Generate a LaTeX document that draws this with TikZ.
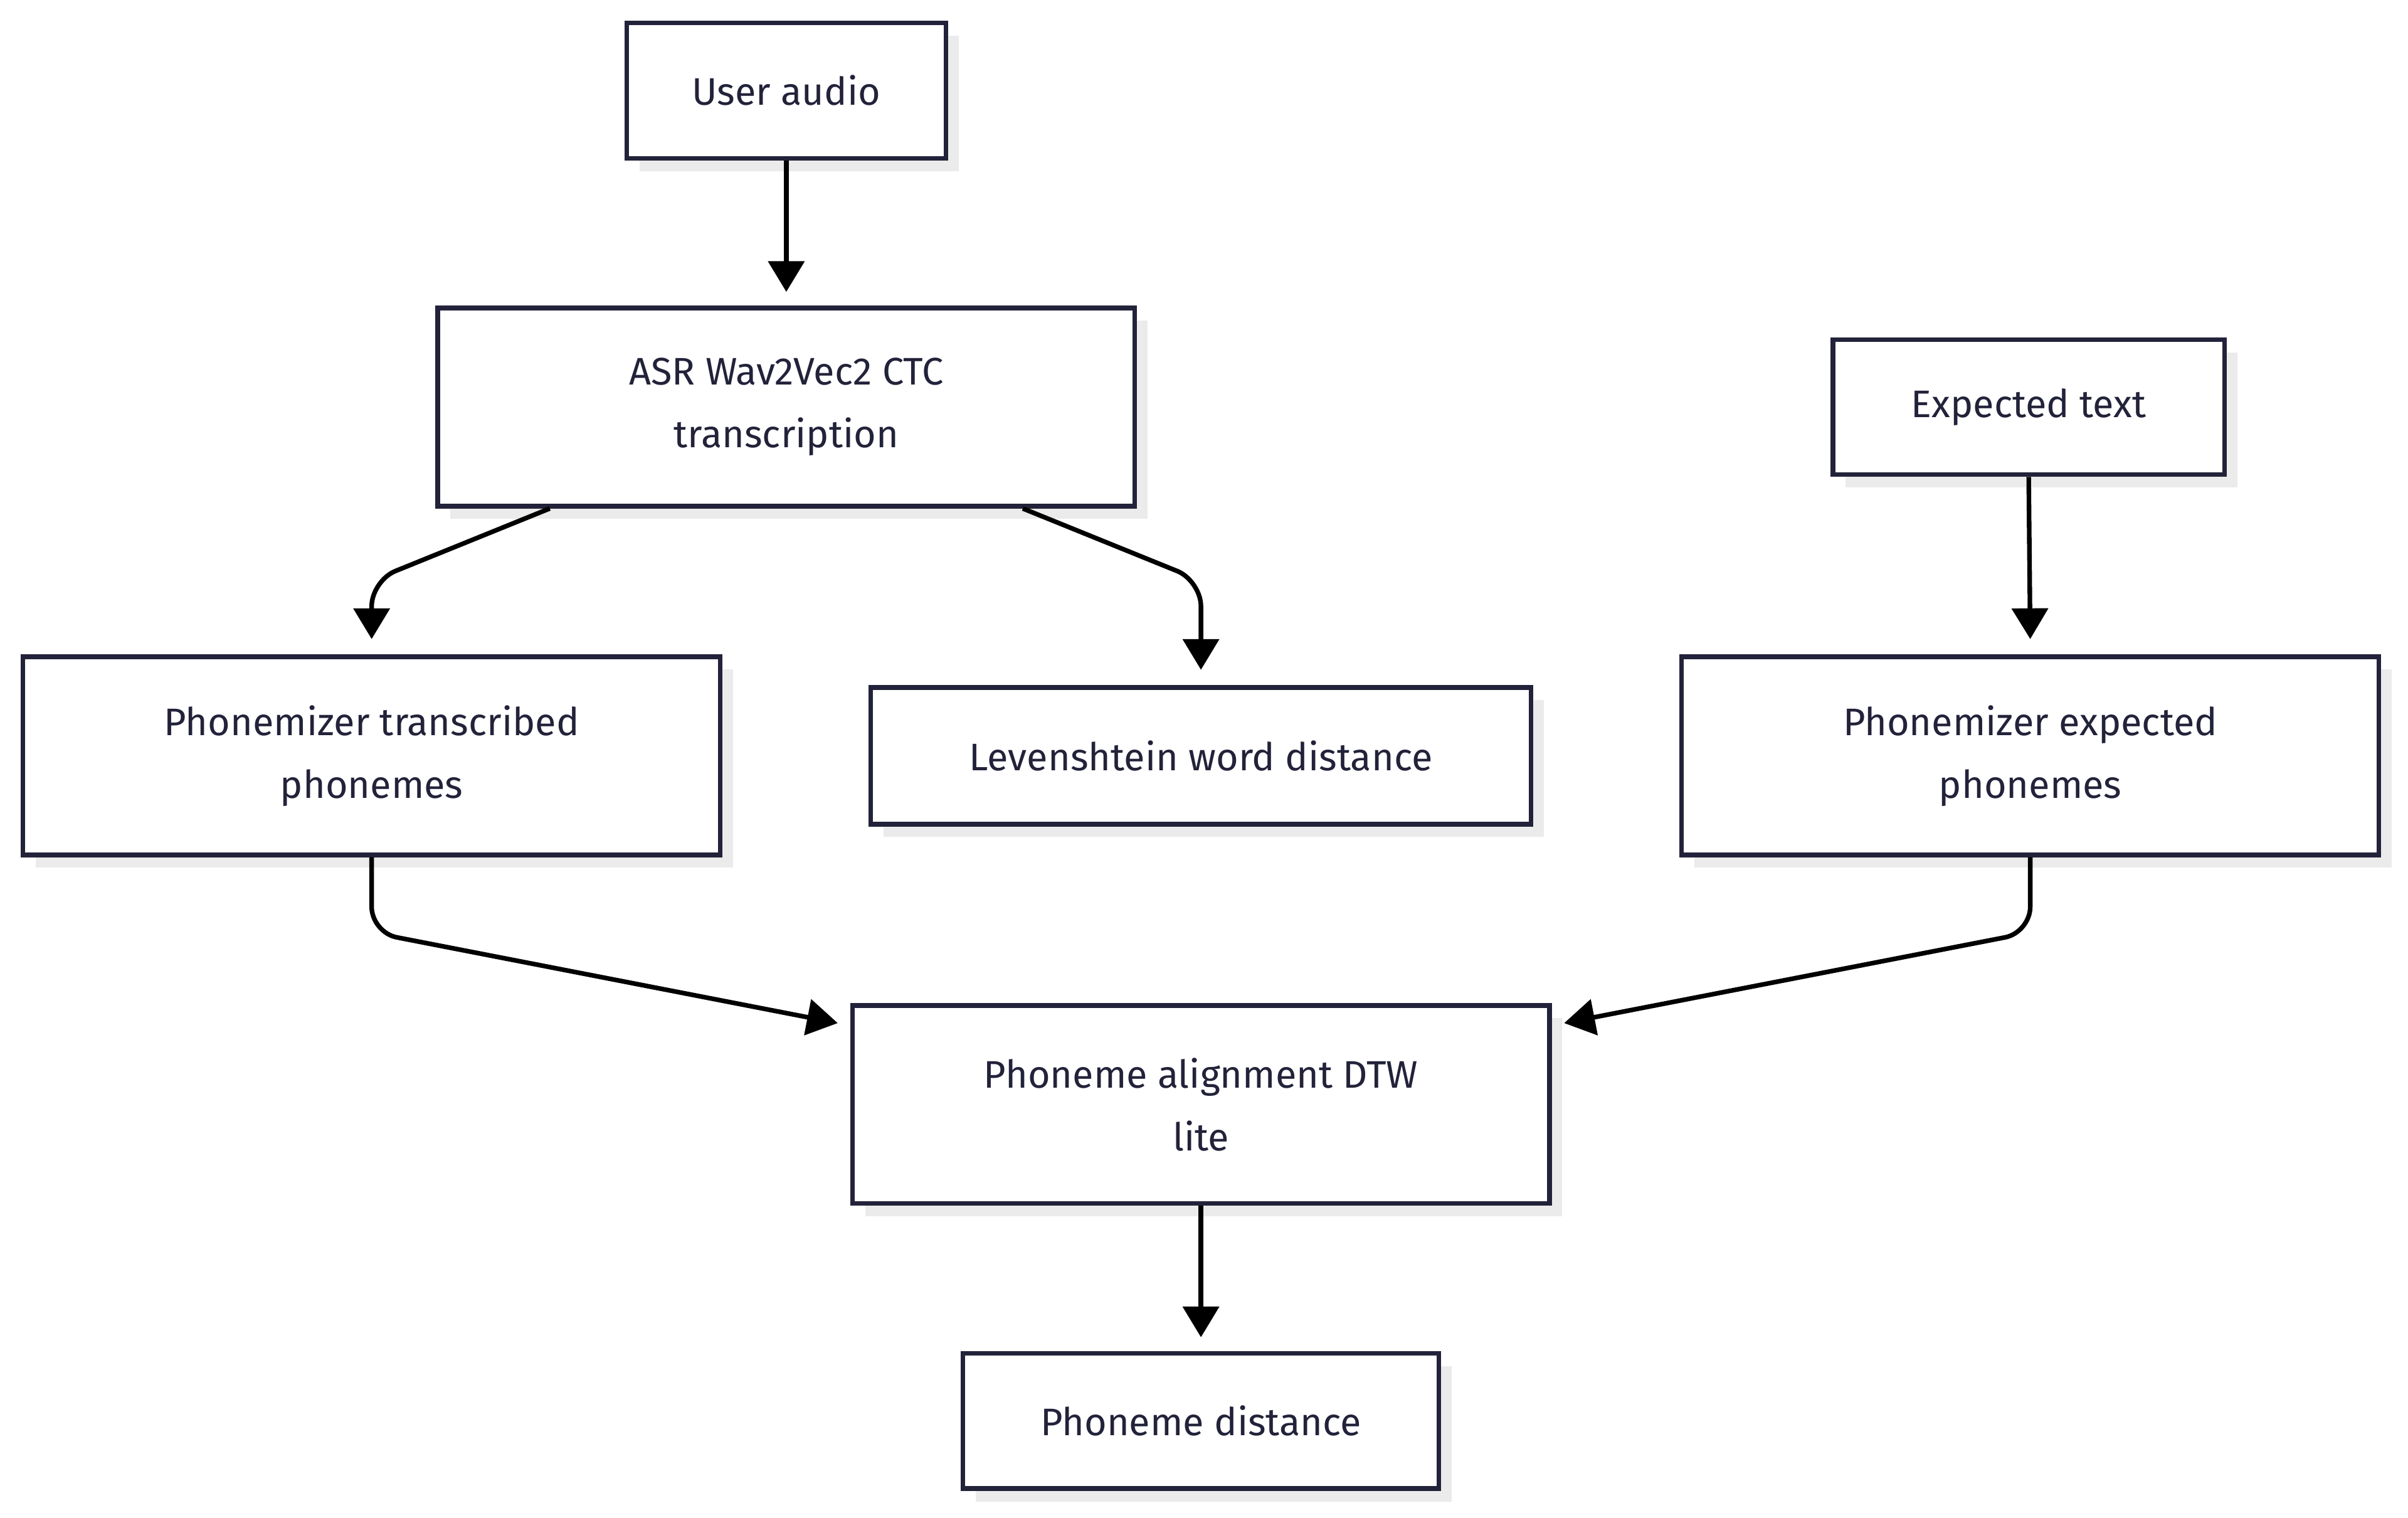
\documentclass[tikz,border=0pt]{standalone}
\usepackage{fontspec}
\setmainfont{Fira Sans}
\usetikzlibrary{arrows.meta,shadows,calc}
\definecolor{ink}{HTML}{22223A}
\begin{document}
\begin{tikzpicture}[x=0.6pt,y=-0.6pt,
  box/.style={draw=ink,line width=1.8pt,fill=white,text=ink,align=center,
    font=\fontsize{15}{24.5}\selectfont,inner sep=0pt,
    drop shadow={shadow xshift=5pt,shadow yshift=-5pt,fill=black!8,opacity=1}},
  arr/.style={draw=black,line width=1.8pt,rounded corners=10pt,-{Triangle[length=12pt,width=14pt]}}]
\useasboundingbox[fill=white] (0,0) rectangle (1568,988);
\node[box,minimum width=124.8pt,minimum height=52.8pt] (ua) at (512,59) {User audio};
\node[box,minimum width=272.4pt,minimum height=77.4pt] (asr) at (512,265) {ASR Wav2Vec2 CTC\\transcription};
\node[box,minimum width=153pt,minimum height=52.8pt] (et) at (1321,265) {Expected text};
\node[box,minimum width=272.4pt,minimum height=77.4pt] (pt) at (242,492) {Phonemizer transcribed\\phonemes};
\node[box,minimum width=258pt,minimum height=53.4pt] (lev) at (782,492) {Levenshtein word distance};
\node[box,minimum width=272.4pt,minimum height=77.4pt] (pe) at (1322,492) {Phonemizer expected\\phonemes};
\node[box,minimum width=272.4pt,minimum height=77.4pt] (al) at (782,719) {Phoneme alignment DTW\\lite};
\node[box,minimum width=186pt,minimum height=52.8pt] (pd) at (782,925) {Phoneme distance};
\draw[arr] (ua.south) -- ($(asr.north)+(0,-9)$);
\draw[arr] ($(asr.south)+(-154,0)$) -- (242,378) -- ($(pt.north)+(0,-10)$);
\draw[arr] ($(asr.south)+(154,0)$) -- (782,378) -- ($(lev.north)+(0,-10)$);
\draw[arr] (et.south) -- ($(pe.north)+(0,-10)$);
\draw[arr] (pt.south) -- (242,607) -- ($(al.north west)+(-8,13)$);
\draw[arr] (pe.south) -- (1322,607) -- ($(al.north east)+(8,13)$);
\draw[arr] (al.south) -- ($(pd.north)+(0,-9)$);
\end{tikzpicture}
\end{document}
